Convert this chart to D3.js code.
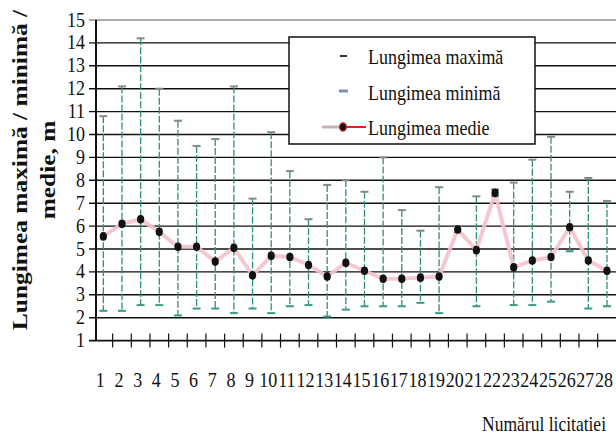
<!DOCTYPE html>
<html><head><meta charset="utf-8">
<script src="https://cdn.jsdelivr.net/npm/d3@7/dist/d3.min.js"></script>
<style>body{margin:0;background:#fff}svg{display:block}</style>
</head><body>
<svg id="c" width="616" height="436"></svg>
<script>
const categories = d3.range(1, 29).map(String);
const maxV  = [10.8,12.1,14.2,12.0,10.6,9.5,9.8,12.1,7.2,10.1,8.4,6.3,7.8,8.0,7.5,9.0,6.7,5.8,7.7,6.0,7.3,7.6,7.9,8.9,9.9,7.5,8.1,7.1];
const minV  = [2.3,2.3,2.55,2.55,2.1,2.4,2.4,2.2,2.4,2.2,2.5,2.55,2.05,2.35,2.5,2.5,2.5,2.65,2.2,5.7,2.5,7.3,2.55,2.55,2.7,4.9,2.4,2.5];
const meanV = [5.55,6.1,6.3,5.75,5.1,5.1,4.45,5.05,3.85,4.7,4.65,4.3,3.8,4.4,4.05,3.7,3.7,3.75,3.8,5.85,4.95,7.45,4.2,4.5,4.65,5.95,4.5,4.05];
const yTicks = d3.range(1, 16);
const legendLabels = ["Lungimea maximă", "Lungimea minimă", "Lungimea medie"];
const yTitle = ["Lungimea maximă / minimă /", "medie, m"];
const xTitle = "Numărul licitatiei";

const FONT = "Liberation Serif";
const svg = d3.select("#c");
const SY = 1.22;
const x = d3.scaleBand().domain(categories).range([94, 616.3]).padding(0);
const y = d3.scaleLinear().domain([1, 15]).range([340.6, 20]);
const cx = c => x(c) + x.bandwidth() / 2;

function htext(g, tx, ty, str, size, anchor, weight) {
  return g.append("text")
    .attr("transform", `translate(${tx},${ty}) scale(1,${SY})`)
    .style("font-family", FONT)
    .attr("font-size", size)
    .attr("font-weight", weight || "normal")
    .attr("text-anchor", anchor || "start").attr("fill", "#111").text(str);
}

// gridlines
svg.append("g").selectAll("line").data(yTicks.filter(v => v > 1))
  .join("line")
  .attr("x1", 89).attr("x2", 616)
  .attr("y1", d => y(d)).attr("y2", d => y(d))
  .attr("stroke", d => d === 15 ? "#aaa" : "#111")
  .attr("stroke-width", d => d === 15 ? 2 : 1.4);

svg.append("line").attr("x1", 96).attr("x2", 96).attr("y1", y(15)).attr("y2", y(1))
  .attr("stroke", "#111").attr("stroke-width", 2);
svg.append("line").attr("x1", 89).attr("x2", 616).attr("y1", y(1)).attr("y2", y(1))
  .attr("stroke", "#111").attr("stroke-width", 1.6);
svg.append("g").selectAll("line").data(categories.slice(1))
  .join("line")
  .attr("x1", d => x(d)).attr("x2", d => x(d))
  .attr("y1", y(1) - 7).attr("y2", y(1) + 7)
  .attr("stroke", "#111").attr("stroke-width", 1.2);

const gy = svg.append("g");
yTicks.forEach(v => htext(gy, 85, y(v) + 6.5, String(v), 18, "end"));
const gx = svg.append("g");
categories.forEach(c => htext(gx, cx(c) - 3, 387, c, 18, "middle"));

const data = categories.map((c, i) => ({c, mx: maxV[i], mn: minV[i], me: meanV[i]}));
svg.append("g").selectAll("line").data(data).join("line")
  .attr("x1", d => cx(d.c)).attr("x2", d => cx(d.c))
  .attr("y1", d => y(d.mx)).attr("y2", d => y(d.mn))
  .attr("stroke", "#2f8f80").attr("stroke-width", 1.3)
  .attr("stroke-dasharray", "7,2");
svg.append("g").selectAll("line").data(data).join("line")
  .attr("x1", d => cx(d.c) - 4).attr("x2", d => cx(d.c) + 4)
  .attr("y1", d => y(d.mx)).attr("y2", d => y(d.mx))
  .attr("stroke", "#888").attr("stroke-width", 2);
svg.append("g").selectAll("line").data(data).join("line")
  .attr("x1", d => cx(d.c) - 4).attr("x2", d => cx(d.c) + 4)
  .attr("y1", d => y(d.mn)).attr("y2", d => y(d.mn))
  .attr("stroke", "#3a9a8a").attr("stroke-width", 2);

svg.append("path").datum(data)
  .attr("d", d3.line().x(d => cx(d.c)).y(d => y(d.me)))
  .attr("fill", "none").attr("stroke", "#f4c2cb").attr("stroke-width", 4)
  .attr("stroke-linejoin", "round").attr("opacity", 0.9);
svg.append("g").selectAll("ellipse").data(data).join("ellipse")
  .attr("cx", d => cx(d.c)).attr("cy", d => y(d.me))
  .attr("rx", 3.6).attr("ry", 4.3).attr("fill", "#111");

const lg = svg.append("g");
lg.append("rect").attr("x", 289).attr("y", 37).attr("width", 246).attr("height", 107)
  .attr("fill", "#fff").attr("stroke", "#111").attr("stroke-width", 1.5);
lg.append("line").attr("x1", 340).attr("x2", 347).attr("y1", 56).attr("y2", 56)
  .attr("stroke", "#333").attr("stroke-width", 2);
lg.append("line").attr("x1", 339).attr("x2", 348).attr("y1", 91).attr("y2", 91)
  .attr("stroke", "#7f8fb0").attr("stroke-width", 3);
lg.append("line").attr("x1", 322).attr("x2", 340).attr("y1", 127).attr("y2", 127)
  .attr("stroke", "#c9b0b5").attr("stroke-width", 3);
lg.append("line").attr("x1", 346).attr("x2", 366).attr("y1", 127).attr("y2", 127)
  .attr("stroke", "#e02020").attr("stroke-width", 2);
lg.append("ellipse").attr("cx", 343).attr("cy", 127).attr("rx", 3.4).attr("ry", 4.2)
  .attr("fill", "#111").attr("stroke", "#e02020").attr("stroke-width", 1.2);
legendLabels.forEach((t, i) => htext(lg, 368, [64, 100, 135][i], t, 18, "start"));

htext(svg, 606, 431, xTitle, 17.5, "end");
const yt = svg.append("g");
[[27, 170], [55, 170]].forEach(([tx, ty], i) => {
  yt.append("text")
    .attr("transform", `translate(${tx},${ty}) rotate(-90) scale(1.27,1)`)
    .style("font-family", FONT)
    .attr("font-size", 20).attr("font-weight", "bold")
    .attr("text-anchor", "middle").attr("fill", "#111").text(yTitle[i]);
});
</script>
</body></html>
